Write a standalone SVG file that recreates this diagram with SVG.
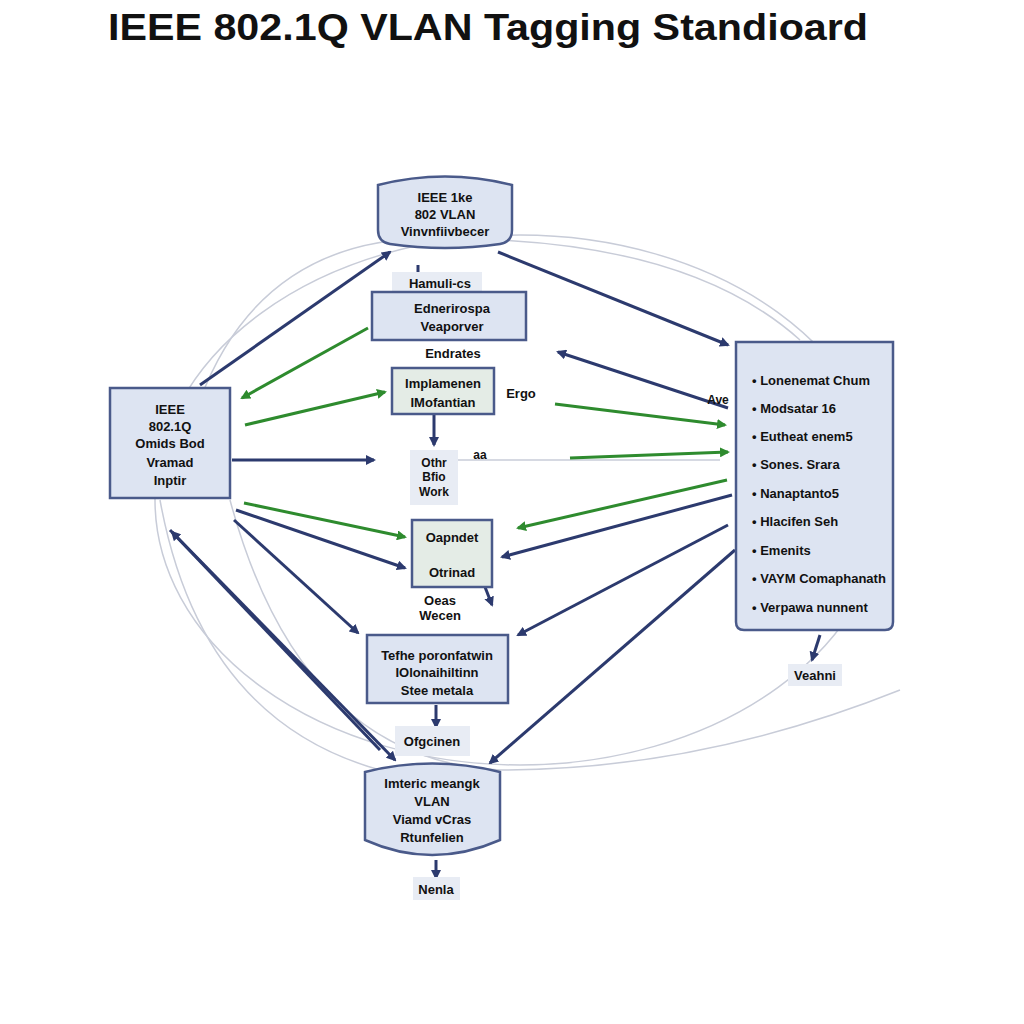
<svg xmlns="http://www.w3.org/2000/svg" width="1024" height="1024" viewBox="0 0 1024 1024">
<style>
.t{font-family:"Liberation Sans",Arial,sans-serif;font-size:13px;fill:#111;text-anchor:middle;font-weight:bold}
.b{fill:#dde4f2;stroke:#4a5a8a;stroke-width:2.5}
.g{fill:#e4ece6;stroke:#4a5a8a;stroke-width:2.5}
.l{fill:#e8ecf4;stroke:none}
.n{stroke:#2c3a6e;stroke-width:3;fill:none;marker-end:url(#an)}
.gr{stroke:#2e8b2e;stroke-width:3;fill:none;marker-end:url(#ag)}
.f{stroke:#c8ccd8;stroke-width:1.5;fill:none}
</style>
<defs>
<marker id="an" markerWidth="10" markerHeight="10" refX="8" refY="5" orient="auto" markerUnits="userSpaceOnUse" viewBox="0 0 10 10"><path d="M0,0 L10,5 L0,10 z" fill="#2c3a6e"/></marker>
<marker id="ag" markerWidth="10" markerHeight="10" refX="8" refY="5" orient="auto" markerUnits="userSpaceOnUse" viewBox="0 0 10 10"><path d="M0,0 L10,5 L0,10 z" fill="#2e8b2e"/></marker>
</defs>
<rect width="1024" height="1024" fill="#fff"/>
<text x="108" y="40" textLength="760" lengthAdjust="spacingAndGlyphs" style="font-family:'Liberation Sans',Arial,sans-serif;font-size:36px;font-weight:bold" fill="#111">IEEE 802.1Q VLAN Tagging Standioard</text>
<g id="connectors">
<ellipse cx="520" cy="500" rx="365" ry="265" class="f"/>
<path d="M230,500 Q300,760 500,770 Q700,770 900,690" class="f"/>
<path d="M200,400 Q260,240 430,238" class="f"/>
<path d="M500,240 Q700,250 800,340" class="f"/>
<path d="M160,500 Q200,720 380,770" class="f"/>
<path d="M430,460 L720,460" class="f"/>
<line x1="200" y1="385" x2="390" y2="252" class="n"/>
<line x1="498" y1="252" x2="728" y2="345" class="n"/>
<line x1="368" y1="328" x2="242" y2="398" class="gr"/>
<line x1="245" y1="425" x2="385" y2="392" class="gr"/>
<line x1="232" y1="460" x2="374" y2="460" class="n"/>
<line x1="244" y1="503" x2="405" y2="537" class="gr"/>
<line x1="236" y1="510" x2="405" y2="568" class="n"/>
<line x1="234" y1="520" x2="358" y2="633" class="n"/>
<line x1="170" y1="530" x2="395" y2="760" class="n"/>
<line x1="380" y1="750" x2="172" y2="532" class="n"/>
<line x1="728" y1="408" x2="558" y2="352" class="n"/>
<line x1="555" y1="404" x2="725" y2="425" class="gr"/>
<line x1="570" y1="458" x2="728" y2="452" class="gr"/>
<line x1="727" y1="480" x2="518" y2="528" class="gr"/>
<line x1="732" y1="495" x2="502" y2="557" class="n"/>
<line x1="728" y1="525" x2="518" y2="635" class="n"/>
<line x1="735" y1="550" x2="490" y2="763" class="n"/>
<line x1="434" y1="415" x2="434" y2="445" class="n"/>
<line x1="418" y1="265" x2="418" y2="290" class="n"/>
<line x1="436" y1="705" x2="436" y2="727" class="n"/>
<line x1="436" y1="860" x2="436" y2="878" class="n"/>
<line x1="820" y1="635" x2="812" y2="660" class="n"/>
<line x1="485" y1="587" x2="492" y2="605" class="n"/>
</g>
<g id="top"><path d="M378,185 Q445,168 512,185 L512,230 Q512,242 500,244 Q445,252 390,244 Q378,242 378,230 Z" class="b"/>
<text class="t" x="445" y="202">IEEE 1ke</text><text class="t" x="445" y="219">802 VLAN</text><text class="t" x="445" y="236">Vinvnfiivbecer</text></g>
<g id="hamuli"><rect x="392" y="272" width="90" height="22" class="l"/><text class="t" x="440" y="288">Hamuli-cs</text></g>
<g id="edner"><rect x="372" y="292" width="154" height="48" class="b"/><text class="t" x="452" y="313">Ednerirospa</text><text class="t" x="452" y="331">Veaporver</text></g>
<text class="t" x="453" y="358">Endrates</text>
<g id="impl"><rect x="392" y="368" width="102" height="46" class="g"/><text class="t" x="443" y="388">Implamenen</text><text class="t" x="443" y="407">IMofantian</text></g>
<text class="t" x="521" y="398">Ergo</text>
<text class="t" x="718" y="404" style="font-size:12px">Ave</text>
<g id="left"><rect x="110" y="388" width="120" height="110" class="b"/>
<text class="t" x="170" y="414">IEEE</text><text class="t" x="170" y="431">802.1Q</text><text class="t" x="170" y="448">Omids Bod</text><text class="t" x="170" y="467">Vramad</text><text class="t" x="170" y="485">Inptir</text></g>
<g id="work"><rect x="410" y="450" width="48" height="55" class="l"/><text class="t" x="434" y="467" style="font-size:12px">Othr</text><text class="t" x="434" y="481" style="font-size:12px">Bfio</text><text class="t" x="434" y="496" style="font-size:12px">Work</text></g>
<text class="t" x="480" y="459" style="font-size:12px">aa</text>
<g id="oap"><rect x="412" y="520" width="80" height="67" class="g"/><text class="t" x="452" y="542">Oapndet</text><text class="t" x="452" y="577">Otrinad</text></g>
<text class="t" x="440" y="605">Oeas</text><text class="t" x="440" y="620">Wecen</text>
<g id="tefhe"><rect x="367" y="635" width="141" height="68" class="b"/><text class="t" x="437" y="660">Tefhe poronfatwin</text><text class="t" x="437" y="677">IOlonaihiltinn</text><text class="t" x="437" y="695">Stee metala</text></g>
<g id="ofg"><rect x="395" y="726" width="75" height="30" class="l"/><text class="t" x="432" y="746">Ofgcinen</text></g>
<g id="bottom"><path d="M365,772 Q432,755 500,772 L500,840 Q432,870 365,840 Z" class="b"/>
<text class="t" x="432" y="788">Imteric meangk</text><text class="t" x="432" y="806">VLAN</text><text class="t" x="432" y="824">Viamd vCras</text><text class="t" x="432" y="842">Rtunfelien</text></g>
<g id="nenla"><rect x="413" y="877" width="47" height="23" class="l"/><text class="t" x="436" y="894">Nenla</text></g>
<g id="right"><path d="M736,342 L893,342 L893,622 Q893,630 885,630 L744,630 Q736,630 736,622 Z" class="b"/>
<g style="font-family:'Liberation Sans',Arial,sans-serif;font-size:13px;font-weight:bold" fill="#111">
<text x="752" y="385">• Lonenemat Chum</text><text x="752" y="413">• Modsatar 16</text><text x="752" y="441">• Eutheat enem5</text><text x="752" y="469">• Sones. Srara</text><text x="752" y="498">• Nanaptanto5</text><text x="752" y="526">• Hlacifen Seh</text><text x="752" y="555">• Emenits</text><text x="752" y="583">• VAYM Comaphanath</text><text x="752" y="612">• Verpawa  nunnent</text></g></g>
<g id="veahni"><rect x="788" y="664" width="54" height="22" class="l"/><text class="t" x="815" y="680">Veahni</text></g>
</svg>
